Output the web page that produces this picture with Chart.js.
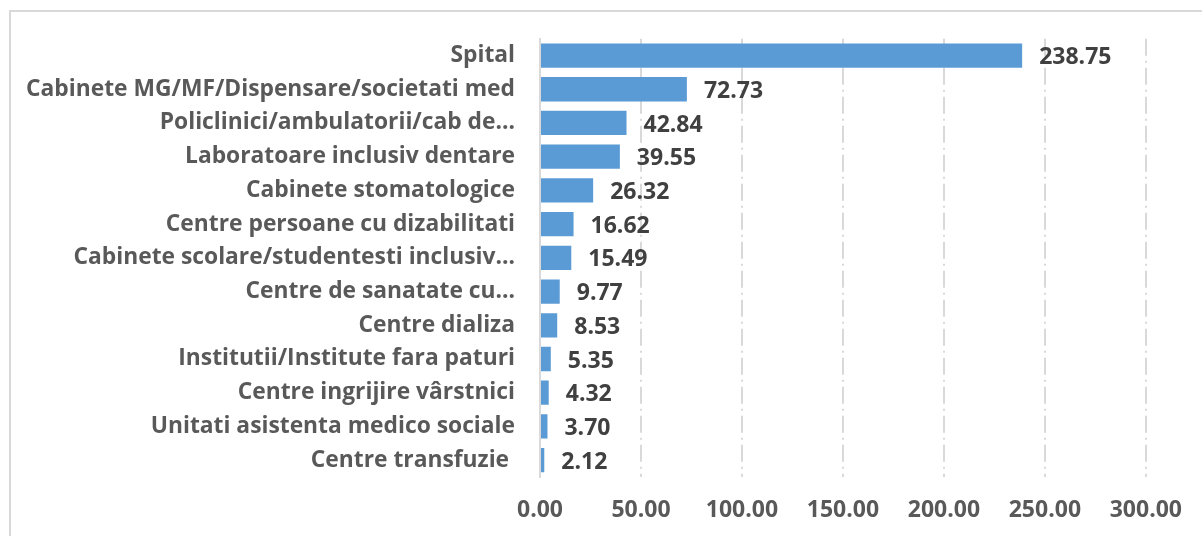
<!DOCTYPE html>
<html>
<head>
<meta charset="utf-8">
<script src="https://cdn.jsdelivr.net/npm/chart.js@4/dist/chart.umd.min.js"></script>
<style>
  html, body { margin: 0; padding: 0; background: #ffffff; overflow: hidden; }
  #wrap { position: relative; width: 1202px; height: 536px; overflow: hidden; }
  #frame { position: absolute; left: 9px; top: 10px; width: 1400px; height: 700px;
           border: 2px solid #d9d9d9; box-sizing: border-box; }
  #cv { position: absolute; left: 0; top: 0; }
</style>
</head>
<body>
<div id="wrap">
  <div id="frame"></div>
  <canvas id="cv" width="1202" height="536"></canvas>
</div>
<script>
// Unit types, in display order (largest first)
const categories = [
  "Spital",
  "Cabinete MG/MF/Dispensare/societati med",
  "Policlinici/ambulatorii/cab de…",
  "Laboratoare inclusiv dentare",
  "Cabinete stomatologice",
  "Centre persoane cu dizabilitati",
  "Cabinete scolare/studentesti inclusiv…",
  "Centre de sanatate cu…",
  "Centre dializa",
  "Institutii/Institute fara paturi",
  "Centre ingrijire vârstnici",
  "Unitati asistenta medico sociale",
  "Centre transfuzie "
];

// Values per unit type
const values = [238.75, 72.73, 42.84, 39.55, 26.32, 16.62, 15.49, 9.77, 8.53, 5.35, 4.32, 3.70, 2.12];

// Value axis range and tick step
const axisMin = 0;
const axisMax = 300;
const axisStep = 50;

const FONT = "'Open Sans', sans-serif";

// Writes the value just past the end of each bar
const barValueLabels = {
  id: 'barValueLabels',
  afterDatasetsDraw(chart) {
    const ctx = chart.ctx;
    const meta = chart.getDatasetMeta(0);
    ctx.save();
    ctx.font = "bold 23px " + FONT;
    ctx.fillStyle = '#404040';
    ctx.textAlign = 'left';
    ctx.textBaseline = 'middle';
    meta.data.forEach((bar, i) => {
      ctx.fillText(values[i].toFixed(2), bar.x + 17, bar.y + 2);
    });
    ctx.restore();
  }
};

new Chart(document.getElementById('cv'), {
  type: 'bar',
  data: {
    labels: categories,
    datasets: [{
      data: values,
      backgroundColor: '#5b9bd5',
      borderWidth: 0,
      barPercentage: 0.72,
      categoryPercentage: 1.0
    }]
  },
  options: {
    indexAxis: 'y',
    responsive: false,
    animation: false,
    events: [],
    layout: { padding: { top: 38, right: 50, left: 0, bottom: 0 } },
    plugins: {
      legend: { display: false },
      tooltip: { enabled: false },
      title: { display: false }
    },
    scales: {
      x: {
        min: axisMin,
        max: axisMax,
        ticks: {
          stepSize: axisStep,
          padding: 20,
          color: '#595959',
          font: { family: FONT, size: 23, weight: 'bold' },
          callback: v => Number(v).toFixed(2)
        },
        grid: {
          drawTicks: false,
          color: ctx => ctx.index === 0 ? 'rgba(0,0,0,0)' : '#d9d9d9',
          lineWidth: 2
        },
        border: { display: false, dash: [17, 5, 2, 5] },
        afterFit: s => { s.height = 59; }
      },
      y: {
        ticks: {
          padding: 25,
          color: '#595959',
          font: { family: FONT, size: 22.8, weight: 'bold' }
        },
        grid: { display: false, drawTicks: false },
        border: { display: true, color: '#d9d9d9', width: 2 },
        afterFit: s => { s.width = 540; }
      }
    }
  },
  plugins: [barValueLabels]
});
</script>
</body>
</html>
